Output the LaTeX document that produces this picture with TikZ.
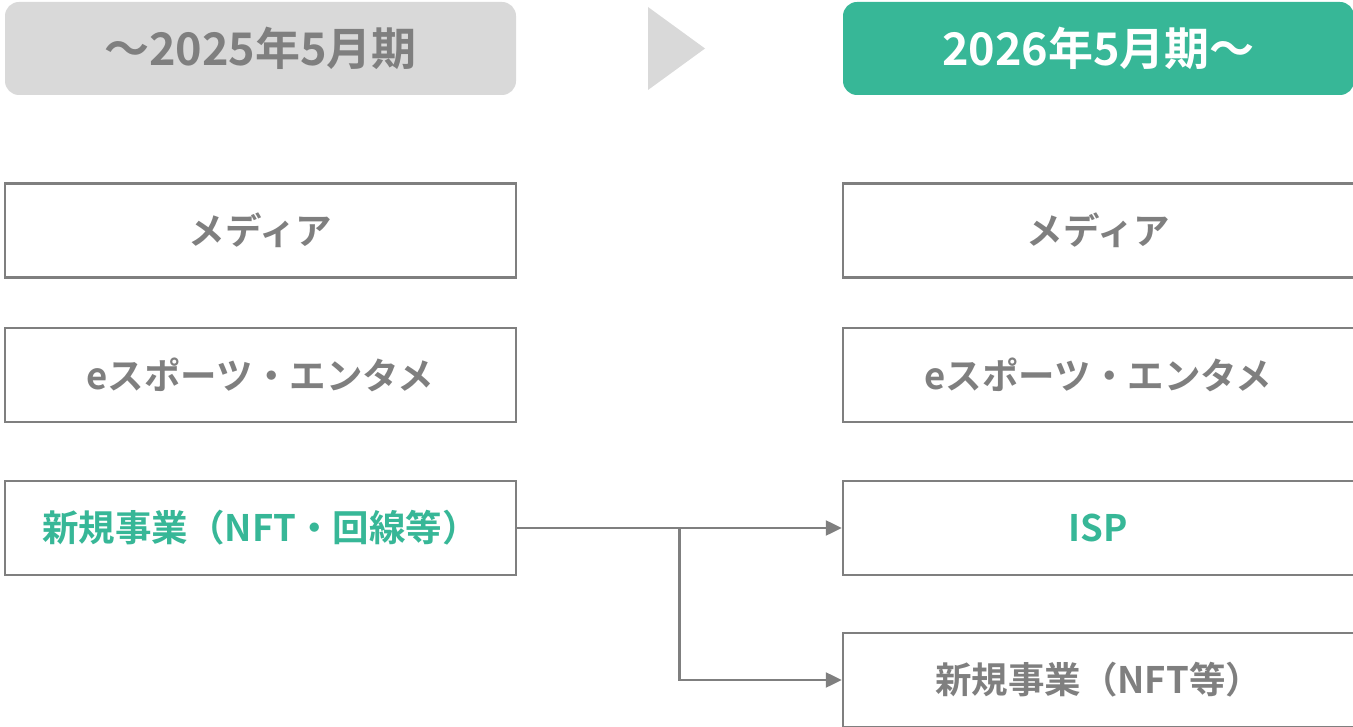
\documentclass[tikz,border=0pt]{standalone}
\usepackage{fontspec}
\setmainfont{Noto Sans CJK JP}[BoldFont={Noto Sans CJK JP Bold}]
\usetikzlibrary{arrows.meta}
\definecolor{hgray}{HTML}{D9D9D9}
\definecolor{tgray}{HTML}{7F7F7F}
\definecolor{lgreen}{HTML}{37B797}
\tikzset{
  x=1pt, y=-1pt,
  hdr/.style={rounded corners=14pt, minimum width=511pt, minimum height=93pt, inner sep=0pt, font=\fontsize{45}{49}\selectfont\bfseries},
  boxnode/.style={draw=tgray, line width=2.5pt, fill=white, minimum width=511pt, minimum height=94pt, inner sep=0pt, text=tgray, font=\fontsize{36.5}{40}\selectfont\bfseries},
  conn/.style={draw=tgray, line width=2.5pt, -{Triangle[length=16pt,width=15pt]}},
}
\begin{document}
\begin{tikzpicture}
\useasboundingbox (0,0) rectangle (1353,727);
\node[hdr, fill=hgray, text=tgray] (h1) at (260.5,48.5) {〜2025年5月期};
\node[hdr, fill=lgreen, text=white] (h2) at (1098.5,48.5) {2026年5月期〜};
\fill[hgray] (648,7) -- (705,48.5) -- (648,90) -- cycle;
\node[boxnode] (l1) at (260.5,230.5) {メディア};
\node[boxnode] (l2) at (260.5,375) {eスポーツ・エンタメ};
\node[boxnode, text=lgreen] (l3) at (260.5,528) {新規事業（NFT・回線等）};
\node[boxnode] (r1) at (1098.5,230.5) {メディア};
\node[boxnode] (r2) at (1098.5,375) {eスポーツ・エンタメ};
\node[boxnode, text=lgreen] (r3) at (1098.5,528) {ISP};
\node[boxnode] (r4) at (1098.5,680) {新規事業（NFT等）};
\coordinate (br) at (679.5,528);
\draw[conn] (l3.east) -- (r3.west);
\draw[conn] (br) |- (r4.west);
\end{tikzpicture}
\end{document}
